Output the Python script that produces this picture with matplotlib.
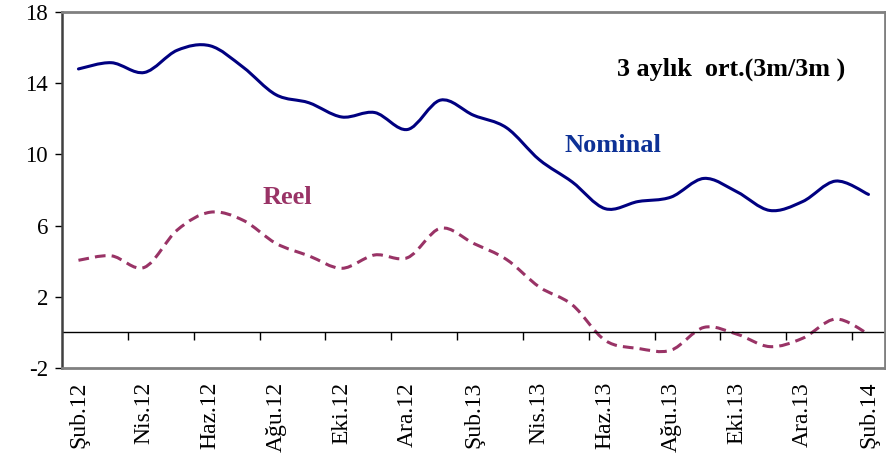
import numpy as np
import matplotlib
matplotlib.use('Agg')
from matplotlib import pyplot as plt
from matplotlib.path import Path
from matplotlib.patches import PathPatch

# months Şub.12 .. Şub.14
months = ['Şub.12', 'Mar.12', 'Nis.12', 'May.12', 'Haz.12', 'Tem.12', 'Ağu.12',
          'Eyl.12', 'Eki.12', 'Kas.12', 'Ara.12', 'Oca.13', 'Şub.13', 'Mar.13',
          'Nis.13', 'May.13', 'Haz.13', 'Tem.13', 'Ağu.13', 'Eyl.13', 'Eki.13',
          'Kas.13', 'Ara.13', 'Oca.14', 'Şub.14']

nominal = [14.8, 15.15, 14.6, 15.85, 16.1, 14.9, 13.35, 12.9, 12.1, 12.35, 11.4,
           13.05, 12.2, 11.5, 9.7, 8.45, 6.95, 7.35, 7.6, 8.65, 7.9, 6.85, 7.35,
           8.5, 7.75]

reel = [4.05, 4.3, 3.65, 5.75, 6.75, 6.3, 5.0, 4.3, 3.6, 4.35, 4.2, 5.85, 5.0,
        4.1, 2.55, 1.55, -0.45, -0.9, -1.0, 0.28, -0.1, -0.8, -0.33, 0.75, -0.1]


def smooth_path(y):
    # Bezier path through the points (Excel-style smoothed line)
    x = np.arange(len(y), dtype=float)
    y = np.asarray(y, dtype=float)
    verts = [(x[0], y[0])]
    codes = [Path.MOVETO]
    n = len(y)
    for i in range(n - 1):
        p0 = (x[max(i - 1, 0)], y[max(i - 1, 0)])
        p1 = (x[i], y[i])
        p2 = (x[i + 1], y[i + 1])
        p3 = (x[min(i + 2, n - 1)], y[min(i + 2, n - 1)])
        c1 = (p1[0] + (p2[0] - p0[0]) / 6, p1[1] + (p2[1] - p0[1]) / 6)
        c2 = (p2[0] - (p3[0] - p1[0]) / 6, p2[1] - (p3[1] - p1[1]) / 6)
        verts += [c1, c2, p2]
        codes += [Path.CURVE4] * 3
    return Path(verts, codes)


plt.rcParams['font.family'] = ['Liberation Serif', 'DejaVu Serif']
plt.rcParams['axes.unicode_minus'] = False

fig = plt.figure(figsize=(8.87, 4.59), dpi=100)
ax = fig.add_axes([0.0699, 0.1983, 0.9278, 0.7756])

ax.set_xlim(-0.5, len(months) - 0.5)
ax.set_ylim(-2, 18)

ax.add_patch(PathPatch(smooth_path(nominal), fill=False, edgecolor='#000080',
                       lw=2.2, capstyle='round', joinstyle='round'))
ax.add_patch(PathPatch(smooth_path(reel), fill=False, edgecolor='#993366',
                       lw=2.2, linestyle=(0, (3.5, 2.0))))

# zero line with category ticks
ax.axhline(0, color='black', lw=1.0)
bounds = np.arange(1.5, len(months) - 1, 2)
ax.vlines(bounds, -0.4, 0, color='black', lw=1.0)

ax.set_yticks(np.arange(-2, 19, 4))
ax.tick_params(axis='y', labelsize=16.5, length=5, width=1, direction='out', pad=5)
ax.set_xticks(np.arange(0, len(months), 2))
ax.set_xticklabels(months[::2], rotation=90, fontsize=17)
ax.tick_params(axis='x', length=0, pad=10)

for s in ['top', 'right', 'bottom']:
    ax.spines[s].set_color('#808080')
    ax.spines[s].set_linewidth(2.0)
ax.spines['left'].set_color('#404040')
ax.spines['left'].set_linewidth(1.8)

fig.text(731 / 887, 1 - 69 / 459, '3 aylık  ort.(3m/3m )', fontsize=18.8,
         fontweight='bold', ha='center', va='center', color='black')
ax.text(16.25, 10.5, 'Nominal', fontsize=19, fontweight='bold',
        color='#0d3196', ha='center', va='center')
ax.text(6.35, 7.6, 'Reel', fontsize=19, fontweight='bold',
        color='#993366', ha='center', va='center')

fig.savefig('out.png', dpi=100)
